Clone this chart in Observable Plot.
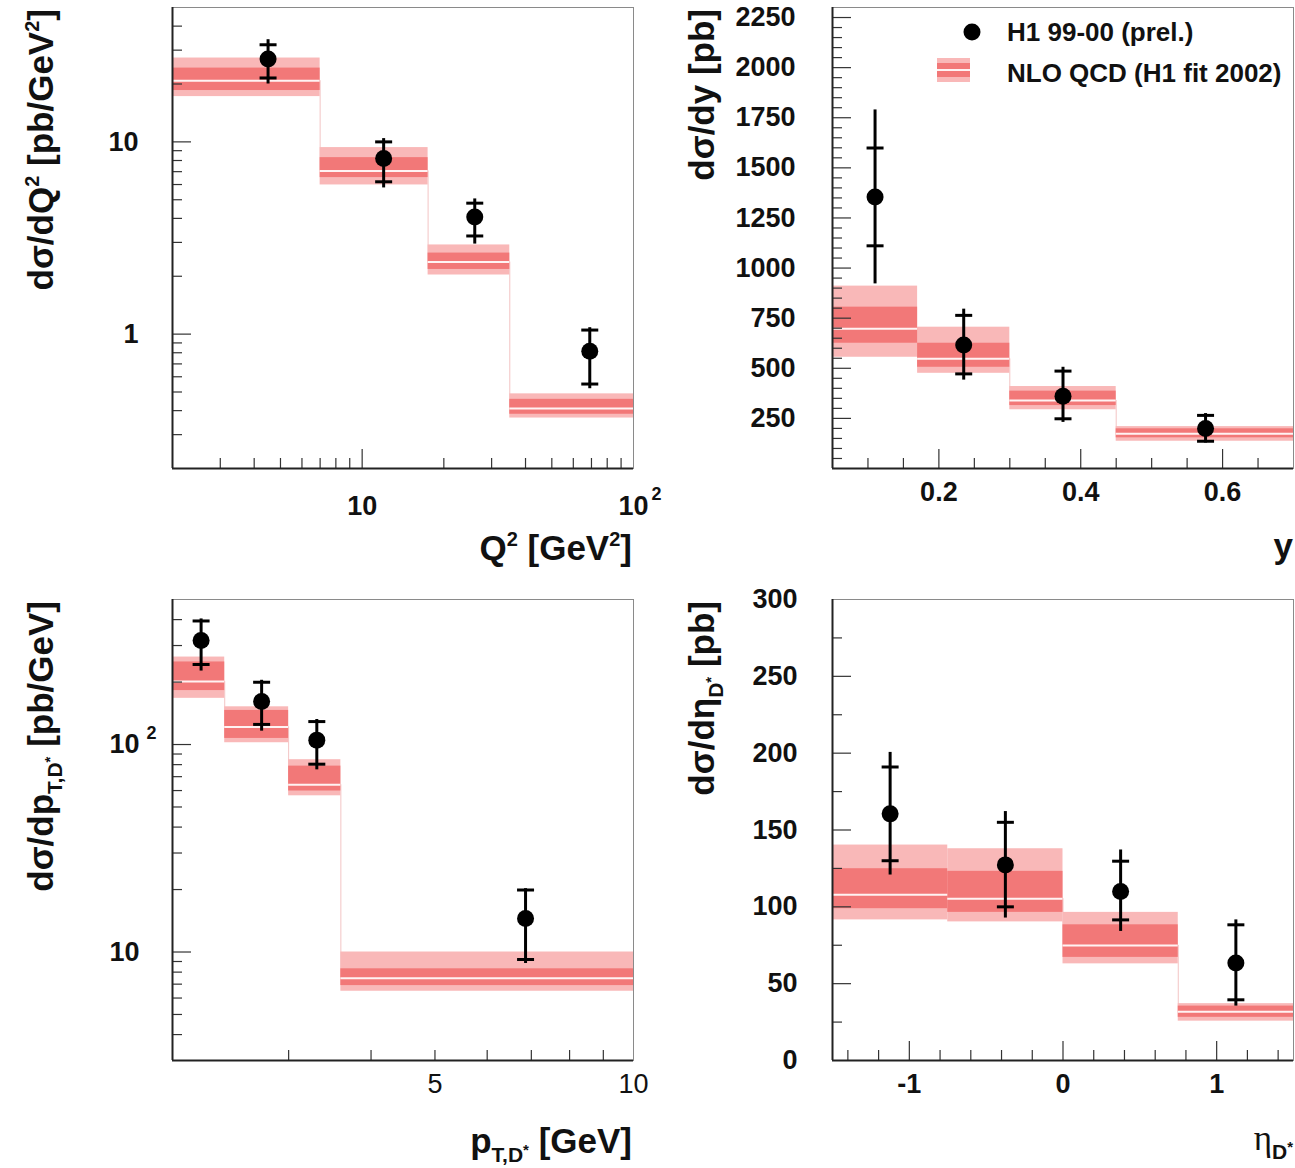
<!DOCTYPE html>
<html><head><meta charset="utf-8">
<script src="https://cdn.jsdelivr.net/npm/d3@7"></script>
<script src="https://cdn.jsdelivr.net/npm/@observablehq/plot@0.6"></script>
<style>
body{margin:0;background:#fff;}
#wrap{position:relative;width:1295px;height:1168px;overflow:hidden;background:#fff;}
#wrap svg{position:absolute;}
</style></head><body><div id="wrap"></div>
<script>
const FONT = "'Liberation Sans', Arial, Helvetica, sans-serif";
const LIGHT = "#f9b8b8", DARK = "#f27878", CENTRAL = "#fff3f3";

// ---------- Panel 1 : dσ/dQ²
const q2Edges = [2, 7, 17.5, 35, 100];
const q2Centers = [4.5, 12, 26, 69];
const q2Values = [27, 8.2, 4.07, 0.815];
const q2StatLo = [21.5, 6.2, 3.24, 0.55];
const q2StatHi = [32, 10.0, 4.8, 1.05];
const q2TotLo = [20, 5.76, 2.94, 0.52];
const q2TotHi = [34, 10.4, 5.05, 1.08];
const q2NloOuterLo = [17.2, 5.97, 2.03, 0.366];
const q2NloInnerLo = [18.5, 6.52, 2.17, 0.383];
const q2NloCentral = [20.8, 7.06, 2.37, 0.41];
const q2NloInnerHi = [24.2, 8.28, 2.64, 0.458];
const q2NloOuterHi = [27.3, 9.34, 2.91, 0.489];
const q2YMajor = [1, 10];
const q2YMinor = [0.3, 0.4, 0.5, 0.6, 0.7, 0.8, 0.9, 2, 3, 4, 5, 6, 7, 8, 9, 20, 30, 40];
const q2XMajor = [10];
const q2XMinor = [3, 4, 5, 6, 7, 8, 9, 20, 30, 40, 50, 60, 70, 80, 90];
const q2YLabels = [1, 10];
const q2XLabels = [10, 100];

// ---------- Panel 2 : dσ/dy
const yEdges = [0.05, 0.17, 0.30, 0.45, 0.70];
const yCenters = [0.11, 0.235, 0.375, 0.576];
const yValues = [1355, 616, 361, 200];
const yStatLo = [1111, 472, 248, 136];
const yStatHi = [1599, 764, 486, 265];
const yTotLo = [921, 441, 230, 127];
const yTotHi = [1789, 795, 505, 274];
const yNloOuterLo = [555, 475, 293, 136];
const yNloInnerLo = [625, 505, 314, 153];
const yNloCentral = [697, 547, 339, 173];
const yNloInnerHi = [805, 625, 386, 198];
const yNloOuterHi = [910, 705, 409, 209];
const yYMajor = [250, 500, 750, 1000, 1250, 1500, 1750, 2000, 2250];
const yYMinor = [50,100,150,200,300,350,400,450,550,600,650,700,800,850,900,950,1050,1100,1150,1200,1300,1350,1400,1450,1550,1600,1650,1700,1800,1850,1900,1950,2050,2100,2150,2200];
const yXMajor = [0.2, 0.4, 0.6];
const yXMinor = [0.1, 0.15, 0.25, 0.3, 0.35, 0.45, 0.5, 0.55, 0.65];
const yYLabels = [250, 500, 750, 1000, 1250, 1500, 1750, 2000, 2250];
const yXLabels = [0.2, 0.4, 0.6];

// ---------- Panel 3 : dσ/dpT
const ptEdges = [2, 2.4, 3, 3.6, 10];
const ptCenters = [2.21, 2.73, 3.31, 6.86];
const ptValues = [317, 161, 105, 14.5];
const ptStatLo = [243, 125, 80.4, 9.2];
const ptStatHi = [394, 199.6, 129, 19.9];
const ptTotLo = [226, 116, 75.5, 8.8];
const ptTotHi = [403, 204, 132, 20.2];
const ptNloOuterLo = [167, 102, 56.6, 6.47];
const ptNloInnerLo = [182, 107, 59.7, 6.89];
const ptNloCentral = [201, 121.6, 64, 7.48];
const ptNloInnerHi = [250, 146, 78.7, 8.3];
const ptNloOuterHi = [264, 152, 84.5, 10.0];
const ptYMajor = [10, 100];
const ptYMinor = [4, 5, 6, 7, 8, 9, 20, 30, 40, 50, 60, 70, 80, 90, 200, 300, 400];
const ptXMajor = [];
const ptXMinor = [3, 4, 5, 6, 7, 8, 9];
const ptYLabels = [10, 100];
const ptXLabels = [5, 10];

// ---------- Panel 4 : dσ/dη
const etaEdges = [-1.5, -0.75, 0, 0.75, 1.5];
const etaCenters = [-1.125, -0.375, 0.375, 1.125];
const etaValues = [160.5, 127.3, 110, 63.4];
const etaStatLo = [130, 100, 91.5, 39.5];
const etaStatHi = [191, 155, 129.7, 88.3];
const etaTotLo = [120.7, 92.7, 84, 35.4];
const etaTotHi = [200.5, 162, 137, 91.5];
const etaNloOuterLo = [91.5, 90.2, 62.9, 25.6];
const etaNloInnerLo = [98.8, 96.4, 67.1, 28.1];
const etaNloCentral = [107.8, 105.3, 74.9, 31.7];
const etaNloInnerHi = [124.8, 123.1, 88.3, 35.4];
const etaNloOuterHi = [140.2, 137.8, 96.4, 37];
const etaYMajor = [50, 100, 150, 200, 250];
const etaYMinor = [25, 75, 125, 175, 225, 275];
const etaXMajor = [-1, 0, 1];
const etaXMinor = [-1.4, -1.2, -0.8, -0.6, -0.4, -0.2, 0.2, 0.4, 0.6, 0.8, 1.2, 1.4];
const etaYLabels = [0, 50, 100, 150, 200, 250, 300];
const etaXLabels = [-1, 0, 1];

const legendLabels = ["H1 99-00 (prel.)", "NLO QCD (H1 fit 2002)"];

const hbar = {draw(ctx, size) { const r = Math.sqrt(size / Math.PI); ctx.moveTo(-r, 0); ctx.lineTo(r, 0); }};

function drawPanel(c) {
  const fw = c.width - c.ml - c.mr, fh = c.height - c.mt - c.mb;
  const bins = c.edges.slice(0, -1).map((lo, i) => ({lo, hi: c.edges[i + 1], oLo: c.oLo[i], iLo: c.iLo[i], mid: c.mid[i], iHi: c.iHi[i], oHi: c.oHi[i]}));
  const pts = c.xs.map((x, i) => ({x, v: c.v[i], sLo: c.sLo[i], sHi: c.sHi[i], tLo: c.tLo[i], tHi: c.tHi[i]}));
  const steps = bins.slice(1).map((b, i) => ({x: b.lo, y1: bins[i].mid, y2: b.mid}));
  const txt = {fill: "#111", fontSize: 27, fontWeight: "bold"};
  const tk = {stroke: "#333", strokeWidth: 1.2};
  const marks = [
    Plot.ruleX(steps, {x: "x", y1: "y1", y2: "y2", stroke: "#f3c4c4", strokeWidth: 1}),
    Plot.rect(bins, {x1: "lo", x2: "hi", y1: "oLo", y2: "oHi", fill: LIGHT}),
    Plot.rect(bins, {x1: "lo", x2: "hi", y1: "iLo", y2: "iHi", fill: DARK}),
    Plot.ruleY(bins, {x1: "lo", x2: "hi", y: "mid", stroke: CENTRAL, strokeWidth: 2}),
    Plot.tickY(c.yMajor, {y: d => d, insetRight: fw - 19, ...tk}),
    Plot.tickY(c.yMinor, {y: d => d, insetRight: fw - 10, ...tk}),
    Plot.tickX(c.xMajor, {x: d => d, insetTop: fh - 19, ...tk}),
    Plot.tickX(c.xMinor, {x: d => d, insetTop: fh - 10, ...tk}),
    Plot.frame({stroke: "#8a8a8a", strokeWidth: 1}),
    Plot.ruleX([c.xDomain[0]], {stroke: "#222", strokeWidth: 2}),
    Plot.ruleY([c.yDomain[0]], {stroke: "#222", strokeWidth: 2}),
    Plot.ruleX(pts, {x: "x", y1: "tLo", y2: "tHi", stroke: "#000", strokeWidth: 3}),
    Plot.dot(pts, {x: "x", y: "sLo", symbol: hbar, r: 8.5, stroke: "#000", strokeWidth: 3, fill: "none"}),
    Plot.dot(pts, {x: "x", y: "sHi", symbol: hbar, r: 8.5, stroke: "#000", strokeWidth: 3, fill: "none"}),
    Plot.dot(pts, {x: "x", y: "v", r: 8.5, fill: "#000"}),
    Plot.text(c.yLabels, {y: d => d, text: c.yFmt, frameAnchor: "left", textAnchor: "end", dx: c.ydx, lineAnchor: "middle", ...txt}),
    Plot.text(c.xLabels, {x: d => d, text: c.xFmt, frameAnchor: "bottom", dy: c.xdy, lineAnchor: "middle", ...txt, fontWeight: c.xWeight || "bold"})
  ];
  if (c.ySup) marks.push(Plot.text(c.ySup, {y: d => d, text: () => "2", frameAnchor: "left", textAnchor: "start", dx: c.ydx + 7, dy: -11, lineAnchor: "middle", fill: "#111", fontSize: 18, fontWeight: "bold"}));
  if (c.xSup) marks.push(Plot.text(c.xSup, {x: d => d, text: () => "2", frameAnchor: "bottom", textAnchor: "start", dx: 18, dy: c.xdy - 12, lineAnchor: "middle", fill: "#111", fontSize: 18, fontWeight: "bold"}));
  const svg = Plot.plot({
    width: c.width, height: c.height,
    marginLeft: c.ml, marginRight: c.mr, marginTop: c.mt, marginBottom: c.mb,
    x: {type: c.xType, domain: c.xDomain, axis: null},
    y: {type: c.yType, domain: c.yDomain, axis: null},
    style: {fontFamily: FONT, background: "transparent", overflow: "visible"},
    marks
  });
  svg.style.left = c.left + "px";
  svg.style.top = c.top + "px";
  document.getElementById("wrap").appendChild(svg);
  return svg;
}

function addTitle(svg, {x, y, rotate, anchor, parts}) {
  const t = d3.select(svg).append("text")
    .attr("transform", `translate(${x},${y})` + (rotate ? " rotate(-90)" : ""))
    .attr("text-anchor", anchor)
    .attr("font-family", FONT).attr("font-weight", "bold").attr("font-size", 35).attr("fill", "#111");
  let cur = 0;
  for (const [s, shift = 0, size = 35, fam, weight] of parts) {
    const ts = t.append("tspan").attr("dy", shift - cur).attr("font-size", size).text(s);
    if (fam) ts.attr("font-family", fam);
    if (weight) ts.attr("font-weight", weight);
    cur = shift;
  }
}

const sup = (s) => [s, -14, 20];

// Panel 1
const p1 = drawPanel({
  left: 0, top: 0, width: 648, height: 584, ml: 172, mr: 15, mt: 7, mb: 116,
  xType: "log", xDomain: [2, 100], yType: "log", yDomain: [0.2, 50],
  edges: q2Edges, xs: q2Centers, v: q2Values, sLo: q2StatLo, sHi: q2StatHi, tLo: q2TotLo, tHi: q2TotHi,
  oLo: q2NloOuterLo, iLo: q2NloInnerLo, mid: q2NloCentral, iHi: q2NloInnerHi, oHi: q2NloOuterHi,
  yMajor: q2YMajor, yMinor: q2YMinor, xMajor: q2XMajor, xMinor: q2XMinor,
  yLabels: q2YLabels, yFmt: d => String(d), ydx: -34,
  xLabels: q2XLabels, xFmt: () => "10", xdy: 38, xSup: [100]
});
addTitle(p1, {x: 53, y: 9, rotate: true, anchor: "end", parts: [["dσ/dQ"], sup("2"), [" [pb/GeV"], sup("2"), ["]"]]});
addTitle(p1, {x: 632, y: 560, anchor: "end", parts: [["Q"], sup("2"), [" [GeV"], sup("2"), ["]"]]});

// Panel 2
const p2 = drawPanel({
  left: 648, top: 0, width: 647, height: 584, ml: 184, mr: 2, mt: 7, mb: 116,
  xType: "linear", xDomain: [0.05, 0.7], yType: "linear", yDomain: [0, 2300],
  edges: yEdges, xs: yCenters, v: yValues, sLo: yStatLo, sHi: yStatHi, tLo: yTotLo, tHi: yTotHi,
  oLo: yNloOuterLo, iLo: yNloInnerLo, mid: yNloCentral, iHi: yNloInnerHi, oHi: yNloOuterHi,
  yMajor: yYMajor, yMinor: yYMinor, xMajor: yXMajor, xMinor: yXMinor,
  yLabels: yYLabels, yFmt: d => String(d), ydx: -37,
  xLabels: yXLabels, xFmt: d => d.toFixed(1), xdy: 24
});
addTitle(p2, {x: 66, y: 9, rotate: true, anchor: "end", parts: [["dσ/dy [pb]"]]});
addTitle(p2, {x: 645, y: 558, anchor: "end", parts: [["y"]]});
{
  const g = d3.select(p2).append("g").attr("font-family", FONT).attr("font-weight", "bold").attr("font-size", 26).attr("fill", "#111").attr("text-anchor", "start");
  g.append("circle").attr("cx", 324).attr("cy", 32).attr("r", 8.5).attr("fill", "#000");
  g.append("rect").attr("x", 289).attr("y", 58).attr("width", 33).attr("height", 24).attr("fill", LIGHT);
  g.append("rect").attr("x", 289).attr("y", 63).attr("width", 33).attr("height", 14).attr("fill", DARK);
  g.append("rect").attr("x", 289).attr("y", 69).attr("width", 33).attr("height", 2).attr("fill", CENTRAL);
  g.append("text").attr("x", 359).attr("y", 41).attr("text-anchor", "start").text(legendLabels[0]);
  g.append("text").attr("x", 359).attr("y", 82).attr("text-anchor", "start").text(legendLabels[1]);
}

// Panel 3
const p3 = drawPanel({
  left: 0, top: 584, width: 648, height: 584, ml: 172, mr: 15, mt: 15, mb: 108,
  xType: "log", xDomain: [2, 10], yType: "log", yDomain: [3, 500],
  edges: ptEdges, xs: ptCenters, v: ptValues, sLo: ptStatLo, sHi: ptStatHi, tLo: ptTotLo, tHi: ptTotHi,
  oLo: ptNloOuterLo, iLo: ptNloInnerLo, mid: ptNloCentral, iHi: ptNloInnerHi, oHi: ptNloOuterHi,
  yMajor: ptYMajor, yMinor: ptYMinor, xMajor: ptXMajor, xMinor: ptXMinor,
  yLabels: ptYLabels, yFmt: () => "10", ydx: -33, ySup: [100],
  xLabels: ptXLabels, xFmt: d => String(d), xdy: 24, xWeight: "normal"
});
addTitle(p3, {x: 53, y: 17, rotate: true, anchor: "end", parts: [["dσ/dp"], ["T,D", 9, 21], ["*", 2, 15], [" [pb/GeV]"]]});
addTitle(p3, {x: 632, y: 569, anchor: "end", parts: [["p"], ["T,D", 9, 21], ["*", 2, 15], [" [GeV]"]]});

// Panel 4
const p4 = drawPanel({
  left: 648, top: 584, width: 647, height: 584, ml: 184, mr: 2, mt: 15, mb: 108,
  xType: "linear", xDomain: [-1.5, 1.5], yType: "linear", yDomain: [0, 300],
  edges: etaEdges, xs: etaCenters, v: etaValues, sLo: etaStatLo, sHi: etaStatHi, tLo: etaTotLo, tHi: etaTotHi,
  oLo: etaNloOuterLo, iLo: etaNloInnerLo, mid: etaNloCentral, iHi: etaNloInnerHi, oHi: etaNloOuterHi,
  yMajor: etaYMajor, yMinor: etaYMinor, xMajor: etaXMajor, xMinor: etaXMinor,
  yLabels: etaYLabels, yFmt: d => String(d), ydx: -35,
  xLabels: etaXLabels, xFmt: d => String(d), xdy: 24
});
addTitle(p4, {x: 66, y: 17, rotate: true, anchor: "end", parts: [["dσ/dη"], ["D", 9, 21], ["*", 2, 15], [" [pb]"]]});
addTitle(p4, {x: 645, y: 566, anchor: "end", parts: [["η", 0, 35, "'Liberation Serif', serif", "normal"], ["D", 9, 21], ["*", 2, 15]]});
</script></body></html>
